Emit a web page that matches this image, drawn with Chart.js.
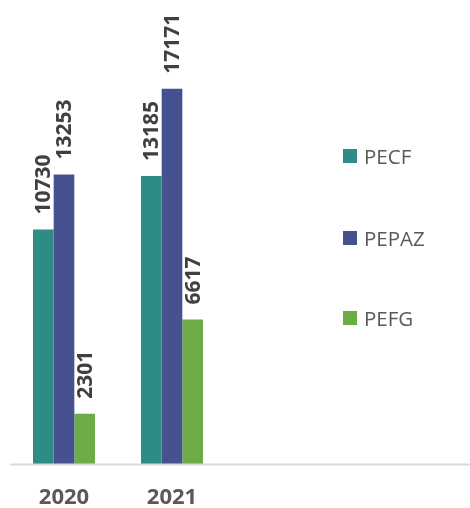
<!DOCTYPE html>
<html><head><meta charset="utf-8">
<script src="https://cdn.jsdelivr.net/npm/chart.js@4.4.0/dist/chart.umd.min.js"></script>
<style>
html,body{margin:0;padding:0;background:#fff;}
#wrap{position:relative;width:470px;height:508px;}
#legend{position:absolute;left:343px;top:0;font-family:"Open Sans",sans-serif;font-size:20.5px;color:#595959;}
.li{position:absolute;left:0;white-space:nowrap;display:flex;align-items:center;height:24px;}
.sw{width:14px;height:14px;margin-right:7px;display:inline-block;}
</style></head>
<body>
<div id="wrap"><canvas id="c" width="470" height="508"></canvas><div id="legend"></div></div>
<script>
const categories = ['2020', '2021'];
const seriesNames = ['PECF', 'PEPAZ', 'PEFG'];
const pecf = [10730, 13185];
const pepaz = [13253, 17171];
const pefg = [2301, 6617];
const colors = ['#2f8b86', '#46518f', '#6cab45'];

const valueLabels = {
  id: 'valueLabels',
  afterDatasetsDraw(chart) {
    const ctx = chart.ctx;
    ctx.save();
    ctx.font = 'bold 21px "Open Sans", sans-serif';
    ctx.fillStyle = '#404040';
    ctx.textAlign = 'left';
    ctx.textBaseline = 'middle';
    chart.data.datasets.forEach((ds, i) => {
      chart.getDatasetMeta(i).data.forEach((bar, j) => {
        ctx.save();
        ctx.translate(bar.x + 1, bar.y - 15);
        ctx.rotate(-Math.PI / 2);
        ctx.fillText(String(ds.data[j]), 0, 0);
        ctx.restore();
      });
    });
    ctx.restore();
  }
};
const axisLine = {
  id: 'axisLine',
  afterDraw(chart) {
    const ctx = chart.ctx;
    const y = chart.chartArea.bottom + 0.5;
    ctx.save();
    ctx.strokeStyle = '#d9d9d9';
    ctx.lineWidth = 2;
    ctx.beginPath();
    ctx.moveTo(chart.chartArea.left, y);
    ctx.lineTo(chart.width, y);
    ctx.stroke();
    ctx.restore();
  }
};

const chart = new Chart(document.getElementById('c'), {
  type: 'bar',
  data: {
    labels: categories,
    datasets: [
      { label: seriesNames[0], data: pecf, backgroundColor: colors[0] },
      { label: seriesNames[1], data: pepaz, backgroundColor: colors[1] },
      { label: seriesNames[2], data: pefg, backgroundColor: colors[2] }
    ]
  },
  options: {
    responsive: false,
    animation: false,
    layout: { padding: { left: 10, right: 244, top: 27, bottom: 0 } },
    plugins: { legend: { display: false }, tooltip: { enabled: false } },
    datasets: { bar: { categoryPercentage: 0.574, barPercentage: 1.0 } },
    scales: {
      y: { display: false, min: 0, max: 20000 },
      x: {
        grid: { display: false, drawTicks: false },
        border: { display: false },
        ticks: { color: '#595959', font: { family: '"Open Sans", sans-serif', size: 22, weight: 'bold' }, padding: 21 },
        afterFit(s) { s.height = 44; }
      }
    }
  },
  plugins: [valueLabels, axisLine]
});

const legendTops = [144, 226, 306];
const lg = document.getElementById('legend');
seriesNames.forEach((n, i) => {
  const d = document.createElement('div');
  d.className = 'li';
  d.style.top = legendTops[i] + 'px';
  d.innerHTML = '<span class="sw" style="background:' + colors[i] + '"></span><span>' + n + '</span>';
  lg.appendChild(d);
});
</script>
</body></html>
